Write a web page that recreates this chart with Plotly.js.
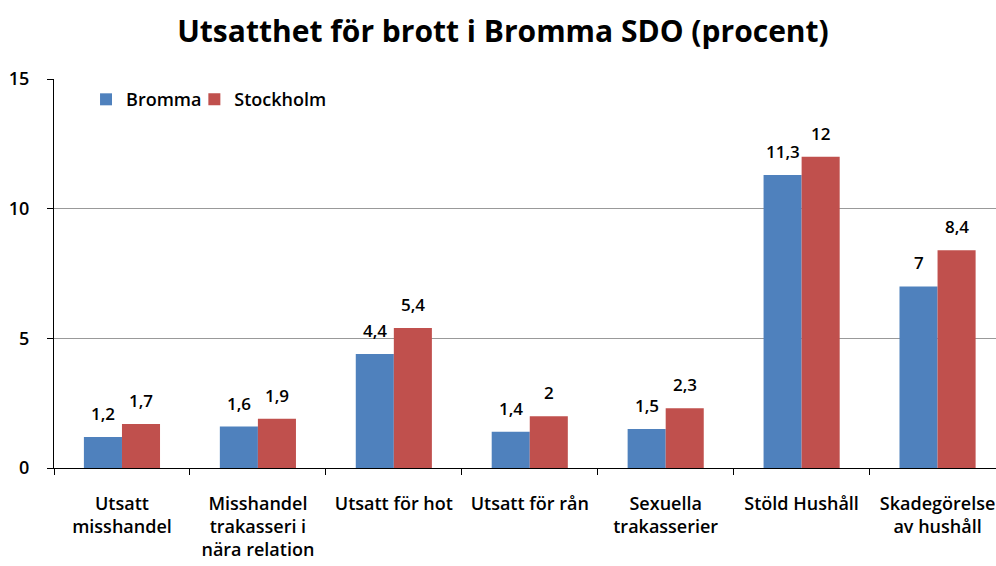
<!DOCTYPE html>
<html><head><meta charset="utf-8">
<script src="https://cdn.plot.ly/plotly-3.0.1.min.js"></script>
<style>html,body{margin:0;padding:0;overflow:hidden;background:#fff}</style>
</head><body><div id="chart" style="width:996px;height:566px"></div>
<script>
var categories = ["Utsatt<br>misshandel", "Misshandel<br>trakasseri i<br>nära relation", "Utsatt för hot", "Utsatt för rån", "Sexuella<br>trakasserier", "Stöld Hushåll", "Skadegörelse<br>av hushåll"];
var bromma = [1.2, 1.6, 4.4, 1.4, 1.5, 11.3, 7];
var stockholm = [1.7, 1.9, 5.4, 2, 2.3, 12, 8.4];
var seriesNames = ["Bromma", "Stockholm"];
var yTicks = [0, 5, 10, 15];

var FONT = "'Open Sans', Lato, sans-serif";
function fmt(v){ return String(v).replace(".", ","); }

var traces = [
  {type:"bar", name:seriesNames[0], x:categories, y:bromma, marker:{color:"#4F81BD"}, hoverinfo:"skip", legend:"legend"},
  {type:"bar", name:seriesNames[1], x:categories, y:stockholm, marker:{color:"#C0504D"}, hoverinfo:"skip", legend:"legend2"}
];

var annotations = [];
[bromma, stockholm].forEach(function(arr, s){
  arr.forEach(function(v, i){
    annotations.push({x:categories[i], y:v, xref:"x", yref:"y", text:fmt(v), showarrow:false,
      xshift: s===0 ? -19 : 19, yshift: 10, yanchor:"bottom",
      font:{family:FONT, size:17, color:"#000", weight:600}});
  });
});

var legendFont = {family:FONT, size:18, color:"#000", weight:600};
var layout = {
  width:996, height:566,
  margin:{l:54, r:0, t:79, b:98, pad:0},
  paper_bgcolor:"#fff", plot_bgcolor:"#fff",
  title:{text:"<b>Utsatthet för brott i Bromma SDO (procent)</b>", x:0.505, xanchor:"center", y:0.945, yanchor:"middle",
    font:{family:FONT, size:30, color:"#000"}},
  barmode:"group", bargap:0.44, bargroupgap:0,
  showlegend:true,
  legend:{orientation:"h", x:0.034, xanchor:"left", y:0.947, yanchor:"middle",
    font:legendFont, bgcolor:"rgba(0,0,0,0)", itemwidth:30},
  legend2:{orientation:"h", x:0.149, xanchor:"left", y:0.947, yanchor:"middle",
    font:legendFont, bgcolor:"rgba(0,0,0,0)", itemwidth:30},
  xaxis:{type:"category", range:[-0.5, 6.43], showline:true, linecolor:"#000", linewidth:1,
    ticks:"outside", tickson:"boundaries", ticklen:6, tickcolor:"#000", showgrid:false,
    tickfont:{family:FONT, size:18, color:"#000", weight:600}, ticklabelstandoff:19, fixedrange:true},
  yaxis:{range:[0,15], tickvals:yTicks, ticktext:yTicks.map(String), showline:true, linecolor:"#000", linewidth:1,
    ticks:"outside", ticklen:6, tickcolor:"#000", showgrid:true, gridcolor:"#999", gridwidth:1,
    zeroline:false, tickfont:{family:FONT, size:18, color:"#000", weight:600}, ticklabelstandoff:14, fixedrange:true},
  annotations:annotations
};
Plotly.newPlot("chart", traces, layout, {displayModeBar:false, staticPlot:true});
</script></body></html>
